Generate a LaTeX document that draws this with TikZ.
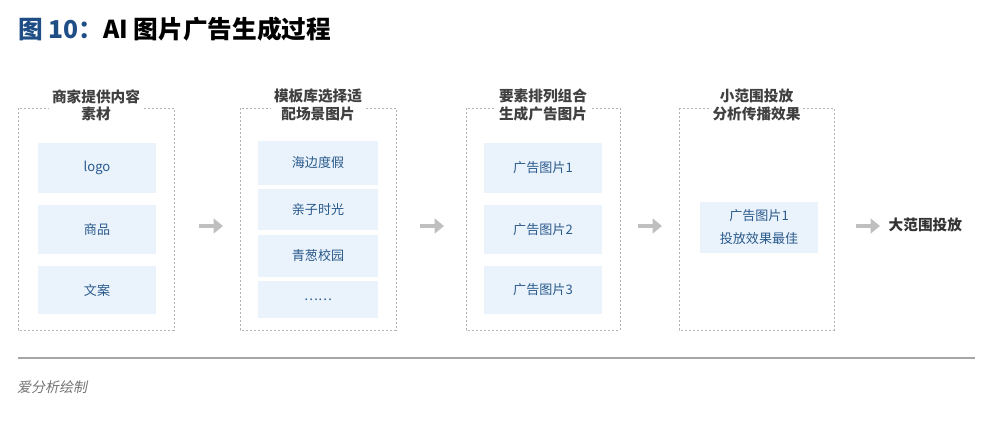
\documentclass[tikz,border=0pt]{standalone}
\usepackage{fontspec}
\setmainfont{Noto Sans CJK SC}
\usetikzlibrary{arrows.meta}
\definecolor{titlecol}{HTML}{1F4E86}
\definecolor{itemcol}{HTML}{2A5A8C}
\definecolor{itemfill}{HTML}{EAF3FC}
\tikzset{
  stage/.style={draw=black!30,dashed,dash pattern=on 1.5pt off 1.5pt},
  item/.style={fill=itemfill,text=itemcol,font=\fontsize{9.8}{12}\selectfont,align=center},
  head/.style={fill=white,font=\bfseries\fontsize{11}{13}\selectfont,text=black!75,align=center,inner sep=2pt},
  flow/.style={black!25,line width=3.5pt,-{Triangle[width=11pt,length=7pt]}}
}
\begin{document}
\begin{tikzpicture}[x=0.75pt,y=-0.75pt]
  \useasboundingbox (0,0) rectangle (1006,424);

  % TITLE
  \node[anchor=west,inner sep=0,font=\bfseries\fontsize{18.5}{22}\selectfont] (title) at (18,29)
    {\textcolor{titlecol}{图 10：}AI 图片广告生成过程};

  % STAGES
  \foreach \n/\xa/\xb/\ha/\hb in {1/18/174/商家提供内容/素材,2/240/396/模板库选择适/配场景图片,
      3/466/620/要素排列组合/生成广告图片,4/679/834/小范围投放/分析传播效果}{
    \draw[stage] (\xa,108) rectangle (\xb,330);
    \node[head] (h\n) at ({(\xa+\xb)/2},105) {\ha\\\hb};
  }

  % ITEMS
  \foreach \i/\ya/\yb/\t in {1/143/193/logo,2/205/254/商品,3/266/314/文案}{
    \node[item,minimum width=118*0.75pt,minimum height={(\yb-\ya)*0.75pt}] (a\i) at (97,{(\ya+\yb)/2}) {\t};
  }
  \foreach \i/\ya/\yb/\t in {1/141/185/海边度假,2/189/230/亲子时光,3/235/277/青葱校园,4/281/318/……}{
    \node[item,minimum width=120*0.75pt,minimum height={(\yb-\ya)*0.75pt}] (b\i) at (318,{(\ya+\yb)/2}) {\t};
  }
  \foreach \i/\ya/\yb in {1/143/193,2/205/254,3/266/314}{
    \node[item,minimum width=118*0.75pt,minimum height={(\yb-\ya)*0.75pt}] (c\i) at (543,{(\ya+\yb)/2}) {广告图片\i};
  }
  \node[item,minimum width=118*0.75pt,minimum height=51*0.75pt,font=\fontsize{9.8}{17}\selectfont] (d1) at (759,227) {广告图片1\\投放效果最佳};

  % ARROWS
  \coordinate (p1) at (199,226); \coordinate (q1) at (223,226);
  \coordinate (p2) at (420,226); \coordinate (q2) at (444,226);
  \coordinate (p3) at (638,226); \coordinate (q3) at (662,226);
  \coordinate (p4) at (856,226); \coordinate (q4) at (880,226);
  \foreach \k in {1,...,4}{ \draw[flow] (p\k) -- (q\k); }
  \node[anchor=west,font=\bfseries\fontsize{11}{13}\selectfont,text=black!80] (final) at (884,225) {大范围投放};

  % FOOTER
  \draw[black!35,line width=0.8pt] (18,358) -- (975,358);
  \node[anchor=west,inner sep=0,text=black!55,font=\fontsize{10.5}{12}\selectfont,xslant=0.2] (src) at (18,387) {爱分析绘制};
\end{tikzpicture}
\end{document}
